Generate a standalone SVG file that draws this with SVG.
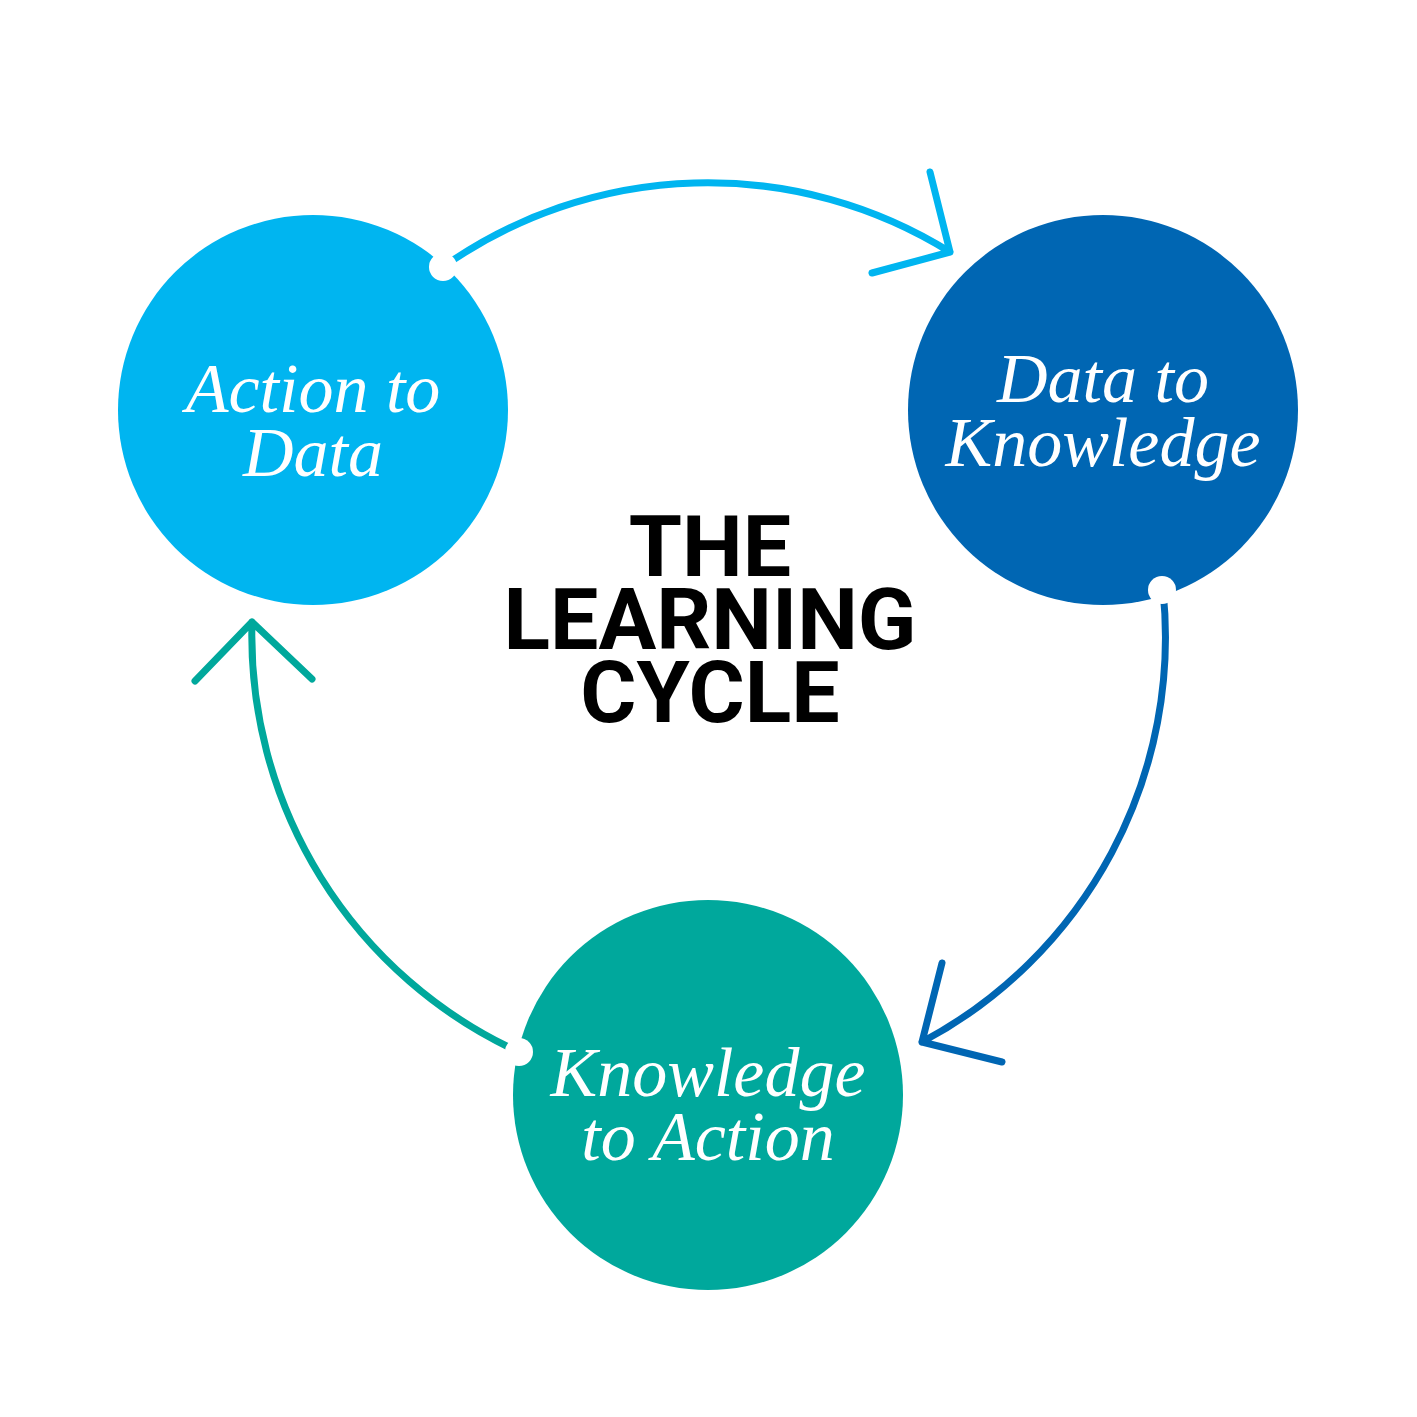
<svg xmlns="http://www.w3.org/2000/svg" width="1417" height="1417" viewBox="0 0 1417 1417">
<style>
.lbl{font-family:"Liberation Serif",serif;font-style:italic;font-size:70px;fill:#fff;text-anchor:middle}
.ttl{font-family:Roboto,"Liberation Sans",sans-serif;font-weight:bold;font-size:86px;fill:#000;text-anchor:middle}
.c{fill:none;stroke-width:7;stroke-linecap:round;stroke-linejoin:round}
</style>
<rect width="1417" height="1417" fill="#fff"/>
<g id="n1"><circle cx="313" cy="410" r="195" fill="#00b5f0"/><text class="lbl" x="313" y="412">Action to</text><text class="lbl" x="313" y="476">Data</text></g>
<g id="n2"><circle cx="1103" cy="410" r="195" fill="#0066b3"/><text class="lbl" x="1103" y="402">Data to</text><text class="lbl" x="1103" y="466">Knowledge</text></g>
<g id="n3"><circle cx="708" cy="1095" r="195" fill="#00a89c"/><text class="lbl" x="708" y="1096">Knowledge</text><text class="lbl" x="708" y="1160">to Action</text></g>
<g id="title"><text class="ttl" x="710" y="576">THE</text><text class="ttl" x="710" y="649">LEARNING</text><text class="ttl" x="710" y="722">CYCLE</text></g>
<g id="connectors">
<path class="c" stroke="#00b5f0" d="M443,267 A458,458 0 0 1 950,252 M930,172 L950,252 L872,273"/>
<path class="c" stroke="#0066b3" d="M1163,590 A458,458 0 0 1 922,1042 M942,963 L922,1042 L1002,1062"/>
<path class="c" stroke="#00a89c" d="M519,1052 A458,458 0 0 1 252,622 M195,681 L252,622 L312,679"/>
<circle cx="443" cy="267" r="14" fill="#fff"/>
<circle cx="1162" cy="590" r="14" fill="#fff"/>
<circle cx="519" cy="1052" r="14" fill="#fff"/>
</g>
</svg>
